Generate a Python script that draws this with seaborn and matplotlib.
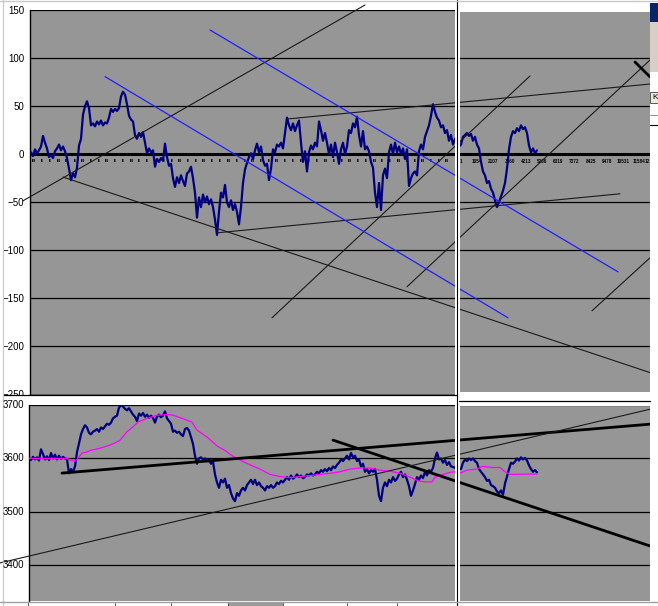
import numpy as np
import matplotlib
matplotlib.use("Agg")
import matplotlib.pyplot as plt
import seaborn as sns
from matplotlib.patches import Rectangle

# ---- data ----
# upper chart: spread series, one value every 2 bars starting at bar 31
top_vals = [2, -2, 5, 1, 4, 8, 19, 12, 6, -3,
            -1, -4, 3, 6, 10, 4, 8, 3, -4, -15,
            -27, -20, -24, -14, 9, 16, 41, 50, 55, 48,
            30, 32, 29, 34, 31, 35, 30, 33, 32, 38,
            47, 44, 47, 45, 48, 60, 65, 62, 52, 40,
            36, 34, 20, 16, 22, 18, 23, 12, 1, 6,
            2, 4, -13, -5, -8, -4, -7, 11, -3, -12,
            -10, -25, -34, -24, -30, -22, -28, -33, -20, -18,
            -13, -25, -40, -66, -45, -55, -42, -50, -44, -52,
            -47, -55, -68, -84, -60, -40, -45, -32, -50, -55,
            -48, -58, -52, -60, -73, -55, -30, -16, -9, -3,
            1, -5, 4, 11, 2, 8, -6, -12, -10, -27,
            -15, 5, 2, 10, 8, 12, 6, 22, 38, 30,
            25, 32, 24, 30, 35, 12, -8, 3, -18, 2,
            9, 5, 12, 8, 34, 25, 14, 22, 12, 0,
            10, -3, 12, 2, -10, 5, 12, 0, 8, 25,
            22, 32, 28, 39, 20, 8, 24, 5, 8, 3,
            -8, -14, -40, -55, -30, -58, -22, -15, -25, 2,
            10, 0, 12, 2, 8, 0, 6, -5, 5, -33,
            -25, -20, -18, -22, 3, 10, 5, 18, 24, 30,
            40, 52, 44, 38, 35, 28, 30, 22, 25, 14,
            20, 10, 16, 12, 8, 10, 18, 20, 22, 19,
            21, 14, 18, 10, 6, -8, -18, -22, -30, -28,
            -36, -40, -48, -55, -50, -44, -38, -30, -15, 5,
            18, 24, 22, 27, 24, 30, 26, 28, 22, 9,
            2, 6, 1, 4]

# lower chart: price level, one value every 2 bars starting at bar 29
bot_vals = [3600, 3597, 3603, 3598, 3602, 3596, 3617, 3608, 3598, 3604,
            3597, 3610, 3600, 3607, 3598, 3605, 3599, 3603, 3600, 3598,
            3572, 3580, 3575, 3585, 3612, 3628, 3645, 3655, 3662, 3658,
            3648, 3645, 3650, 3652, 3655, 3650, 3658, 3655, 3660, 3665,
            3663, 3667, 3675, 3678, 3680, 3695, 3700, 3697, 3693, 3690,
            3694, 3688, 3682, 3678, 3670, 3684, 3680, 3685, 3678, 3682,
            3676, 3680, 3676, 3667, 3678, 3682, 3677, 3680, 3688, 3675,
            3670, 3665, 3650, 3652, 3648, 3650, 3645, 3642, 3655, 3657,
            3652, 3640, 3627, 3605, 3590, 3600, 3602, 3598, 3600, 3595,
            3597, 3590, 3594, 3570, 3555, 3545, 3560, 3555, 3562, 3545,
            3550, 3535, 3525, 3520, 3535, 3530, 3540, 3545, 3540, 3550,
            3555, 3560, 3552, 3560, 3550, 3555, 3548, 3545, 3540, 3548,
            3545, 3550, 3545, 3548, 3555, 3552, 3558, 3555, 3560, 3565,
            3560, 3568, 3562, 3565, 3570, 3565, 3568, 3563, 3565, 3570,
            3568, 3572, 3568, 3570, 3575, 3572, 3578, 3575, 3580, 3576,
            3582, 3578, 3585, 3582, 3588, 3592, 3598, 3595, 3600, 3605,
            3598, 3610, 3602, 3605, 3595, 3598, 3585, 3590, 3575, 3580,
            3572, 3578, 3575, 3580, 3560, 3530, 3520, 3545, 3555, 3548,
            3560, 3555, 3565, 3558, 3562, 3570, 3575, 3565, 3570, 3560,
            3548, 3530, 3540, 3552, 3565, 3560, 3568, 3563, 3575, 3568,
            3578, 3575, 3582, 3600, 3611, 3598, 3600, 3592, 3597, 3588,
            3593, 3585, 3584, 3582, 3582, 3580, 3580, 3592, 3598, 3595,
            3600, 3597, 3600, 3595, 3592, 3580, 3575, 3570, 3565, 3558,
            3560, 3550, 3548, 3545, 3538, 3535, 3540, 3532, 3553, 3566,
            3580, 3592, 3590, 3594, 3600, 3596, 3602, 3598, 3601, 3596,
            3587, 3580, 3575, 3578, 3574]

# lower chart: moving average (magenta)
ma_x = [29, 67, 70, 75, 78, 82, 87, 90, 100, 110, 115, 120, 127, 133, 138,
        147, 157, 167, 173, 182, 192, 197, 207, 218, 225, 232, 240, 250, 260,
        270, 280, 290, 300, 310, 320, 330, 340, 350, 360, 370, 380, 390, 400,
        410, 418, 425, 432, 435, 440, 450, 455, 461, 467, 477, 482, 493, 500,
        505, 510, 537]
ma_vals = [3600, 3600, 3597, 3595, 3600, 3610, 3612, 3615, 3619, 3625, 3629,
           3634, 3650, 3659, 3668, 3675, 3681, 3682, 3681, 3675, 3668, 3653,
           3640, 3622, 3615, 3605, 3597, 3588, 3580, 3570, 3566, 3564, 3566,
           3568, 3570, 3572, 3575, 3580, 3582, 3582, 3578, 3576, 3572, 3565,
           3558, 3556, 3556, 3565, 3568, 3574, 3575, 3573, 3578, 3580, 3585,
           3583, 3583, 3575, 3570, 3571]

# hand-drawn trend lines: (bar start, bar end) and (value start, value end)
top_black_x = [(23, 365), (63, 650), (217, 620), (287, 650), (272, 530),
               (407, 650), (592, 650)]
top_black_y = [(-48.5, 155.2), (-23.8, -227.2), (-81.8, -41.2), (36.6, 73.0),
               (-170.2, 81.4), (-137.9, 98.0), (-162.9, -107.8)]
top_thick_x = [(635, 650)]
top_thick_y = [(95.9, 80.4)]
top_blue_x = [(105, 508), (210, 618)]
top_blue_y = [(80.7, -170.2), (129.2, -122.4)]

bot_thick_x = [(62, 650), (333, 650)]
bot_thick_y = [(3572.5, 3664.1), (3634.2, 3436.1)]
bot_thin_x = [(0, 650)]
bot_thin_y = [(3404.3, 3692.1)]

top_yticks = [150, 100, 50, 0, -50, -100, -150, -200, -250]
bot_yticks = [3700, 3600, 3500, 3400]
# category labels of the right pane (last one is cut by the window edge)
pane_labels = ["1", "1054", "2107", "3160", "4213", "5266", "6319",
               "7372", "8425", "9478", "10531", "11584", "12"]

# ---- drawing ----
sns.set_style("white")
plt.rcParams['font.family'] = ['Liberation Sans Narrow', 'Liberation Sans',
                               'DejaVu Sans']

W, H = 658, 606
fig = plt.figure(figsize=(W / 100, H / 100), dpi=100)
grey = "#969696"
navy = "#000080"
lab_size = 7


def px_axes(x0, y0, x1, y1, **kw):
    return fig.add_axes([x0 / W, 1 - y1 / H, (x1 - x0) / W, (y1 - y0) / H], **kw)


def style_axis(ax, ticks):
    ax.set_facecolor(grey)
    ax.set_yticks(ticks)
    ax.set_xticks([])
    for s in ["top", "right"]:
        ax.spines[s].set_visible(False)
    ax.spines["left"].set_color("black")
    ax.spines["left"].set_linewidth(1.0)
    ax.spines["bottom"].set_color("black")
    ax.spines["bottom"].set_linewidth(1.0)
    ax.tick_params(axis="y", direction="out", length=2.2, width=0.8,
                   labelsize=lab_size, pad=2, colors="black")
    for t in ticks:
        ax.axhline(t, color="black", lw=0.9, zorder=1)


# upper chart
ax1 = px_axes(30, 10, 650, 394.5)
ax1.set_xlim(30, 650)
ax1.set_ylim(-250, 150)
style_axis(ax1, top_yticks)
ax1.axhline(0, color="black", lw=2.2, zorder=2)
tx = np.arange(len(top_vals)) * 2 + 31
sns.lineplot(x=tx, y=top_vals, ax=ax1, color=navy, lw=1.6, estimator=None,
             zorder=4)
for xs, ys in zip(top_black_x, top_black_y):
    ax1.plot(xs, ys, color="#1a1a1a", lw=0.8, zorder=5, clip_on=False)
for xs, ys in zip(top_thick_x, top_thick_y):
    ax1.plot(xs, ys, color="black", lw=2.0, zorder=5, clip_on=False)
for xs, ys in zip(top_blue_x, top_blue_y):
    ax1.plot(xs, ys, color="#2020ff", lw=0.9, zorder=5)
# category labels sitting on the zero line
for i, lab in enumerate(pane_labels[:-1]):
    ax1.text(461 + 16.2 * i, -8, lab, fontsize=3.3, fontweight="bold",
             ha="center", va="center", color="black", zorder=3)
ax1.text(645, -8, pane_labels[-1], fontsize=3.3, fontweight="bold",
         ha="left", va="center", color="black", zorder=3)
for i in range(52):
    ax1.text(34 + 8.1 * i, -7, "ıı" if i % 3 else "ııı", fontsize=3.3,
             fontweight="bold", ha="center", va="center", color="black",
             zorder=3)
ax1.set_ylabel("")

# lower chart
ax2 = px_axes(29, 405, 650, 601)
ax2.set_xlim(29, 650)
ax2.set_ylim(3333, 3700)
style_axis(ax2, bot_yticks)
ax2.tick_params(axis="y", labelleft=False)
ax2.spines["bottom"].set_visible(False)
bx = np.arange(len(bot_vals)) * 2 + 29
sns.lineplot(x=bx, y=bot_vals, ax=ax2, color=navy, lw=1.6, estimator=None,
             zorder=4)
sns.lineplot(x=ma_x, y=ma_vals, ax=ax2, color="#ff00ff", lw=0.9,
             estimator=None, zorder=4)
for xs, ys in zip(bot_thick_x, bot_thick_y):
    ax2.plot(xs, ys, color="black", lw=2.0, zorder=5, clip_on=False)
for xs, ys in zip(bot_thin_x, bot_thin_y):
    ax2.plot(xs, ys, color="#1a1a1a", lw=0.8, zorder=5, clip_on=False)
ax2.set_ylabel("")

# ---- window chrome (split bar, pane edges) ----
ov = fig.add_axes([0, 0, 1, 1], zorder=20)
ov.set_xlim(0, W)
ov.set_ylim(H, 0)
ov.axis("off")
ov.patch.set_alpha(0)


def box(x0, y0, x1, y1, fc, ec="none", lw=0):
    ov.add_patch(Rectangle((x0, y0), x1 - x0, y1 - y0, facecolor=fc,
                           edgecolor=ec, lw=lw))


# strip between the two charts
box(3, 394.8, 456, 405, "white")
ov.plot([3, 456], [394.6, 394.6], color="black", lw=0.9)
box(459, 392, 650, 406, "white")
ov.plot([459, 650], [401.3, 401.3], color="black", lw=0.9)
# lower chart value labels (the lower window sits above the strip)
to_ov = ax2.transData + ov.transData.inverted()
for v in bot_yticks:
    _, ypx = to_ov.transform((29, v))
    ov.text(24, ypx, str(v), fontsize=lab_size, ha="right", va="center",
            color="black")
# right pane top offset
box(459, 0, 650, 12, "white")
# vertical split bar
box(455.3, 0, 459.5, H, "white")
ov.plot([457.3, 457.3], [0, H], color="black", lw=0.8)
# right edge beyond plot
box(650, 0, W, H, "white")
box(650, 3, W, 22, "#0a246a")
box(650, 22, W, 72, "#d4d0c8")
box(650, 92, W, 103, "#ece9d8", ec="#404040", lw=0.6)
ov.text(652, 97.5, "K", fontsize=6, va="center", ha="left", color="black")
ov.plot([650, W], [115, 115], color="#808080", lw=0.6)
ov.plot([650, W], [125, 125], color="black", lw=0.8)
# top and left window borders
ov.plot([0, W], [1, 1], color="#c8c8c8", lw=1.0)
ov.plot([2.5, 2.5], [0, H], color="#c8c8c8", lw=0.9)
# sheet tab strip at the bottom
box(0, 601.5, W, H, "white")
ov.plot([0, W], [602, 602], color="#a0a0a0", lw=1.0)
box(228, 603, 283, H, "#9a9a9a")
for sx in [28, 115, 171, 228, 283, 347, 397]:
    ov.plot([sx, sx], [603, H], color="#404040", lw=0.6)

fig.savefig("out.png", dpi=100)
